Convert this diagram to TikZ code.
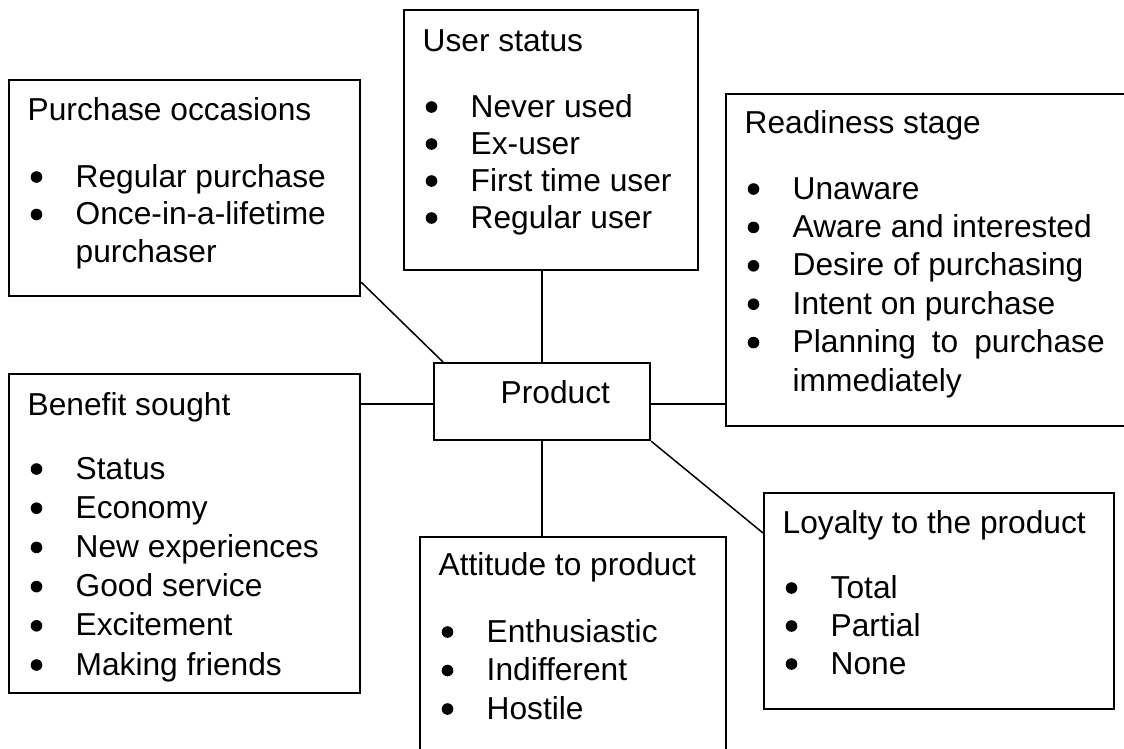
\documentclass[tikz,border=0pt]{standalone}
\usepackage{fontspec}
\setmainfont{Liberation Sans}
\newcommand\bdot{\tikz[baseline=0pt]\fill (5.8pt,10pt) circle (5.8pt);}
\newcommand\itm[1]{\par\hspace*{3pt}\makebox[45pt][l]{\bdot}#1}
\newcommand\cont[1]{\par\hspace*{48pt}#1}
\newcommand\btext[4]{\parbox[t]{420pt}{\fontsize{31.7pt}{#1pt}\selectfont #3\par\vspace{#2pt}#4}}
\tikzset{
  boxn/.style={draw, line width=2.2pt, rectangle, inner sep=0pt, anchor=north west},
  txt/.style={inner sep=0pt, anchor=base west},
  conn/.style={line width=1.5pt}
}
\begin{document}
\begin{tikzpicture}[x=1pt,y=-1pt]
\clip (0,0) rectangle (1124,748);
% boxes
\node[boxn, minimum width=294pt, minimum height=260pt] (us) at (403,9) {};
\node[boxn, minimum width=351pt, minimum height=216pt] (pur) at (8,79) {};
\node[boxn, minimum width=415pt, minimum height=332pt] (rdy) at (725,93) {};
\node[boxn, minimum width=351pt, minimum height=319pt] (ben) at (8,373) {};
\node[boxn, minimum width=306pt, minimum height=234pt] (att) at (419,536) {};
\node[boxn, minimum width=350pt, minimum height=216pt] (loy) at (763,492) {};
\node[boxn, minimum width=216pt, minimum height=77pt] (prod) at (433,362) {};
% texts
\node[txt] (us-t) at (422.5,51) {\btext{37}{29}{User status}{%
  \itm{Never used}\itm{Ex-user}\itm{First time user}\itm{Regular user}}};
\node[txt] (pur-t) at (27.5,120) {\btext{37.5}{29.5}{Purchase occasions}{%
  \itm{Regular purchase}\itm{Once-in-a-lifetime}\cont{purchaser}}};
\node[txt] (rdy-t) at (744.5,133) {\btext{38.4}{27.6}{Readiness stage}{%
  \itm{Unaware}\itm{Aware and interested}\itm{Desire of purchasing}\itm{Intent on purchase}%
  \itm{\makebox[312pt][l]{Planning\hfill to\hfill purchase}}\cont{immediately}}};
\node[txt] (ben-t) at (27.5,415) {\btext{39.2}{24.8}{Benefit sought}{%
  \itm{Status}\itm{Economy}\itm{New experiences}\itm{Good service}\itm{Excitement}\itm{Making friends}}};
\node[txt] (att-t) at (438.5,575) {\btext{38.5}{28.5}{Attitude to product}{%
  \itm{Enthusiastic}\itm{Indifferent}\itm{Hostile}}};
\node[txt] (loy-t) at (782.5,533) {\btext{38}{27}{Loyalty to the product}{%
  \itm{Total}\itm{Partial}\itm{None}}};
\node[txt, font=\fontsize{31.7pt}{37pt}\selectfont] (prod-t) at (500.5,403) {Product};
% connectors
\draw[conn] (prod.north) -- (prod.north |- us.south);
\draw[conn] ([yshift=15pt]pur.south east) -- ([xshift=10pt]prod.north west);
\draw[conn] ([yshift=-2.5pt]prod.west) -- ([yshift=-2.5pt]prod.west -| ben.east);
\draw[conn] ([yshift=-2.5pt]prod.east) -- ([yshift=-2.5pt]prod.east -| rdy.west);
\draw[conn] (prod.south) -- (prod.south |- att.north);
\draw[conn] (prod.south east) -- ([yshift=-41pt]loy.north west);
\end{tikzpicture}
\end{document}
